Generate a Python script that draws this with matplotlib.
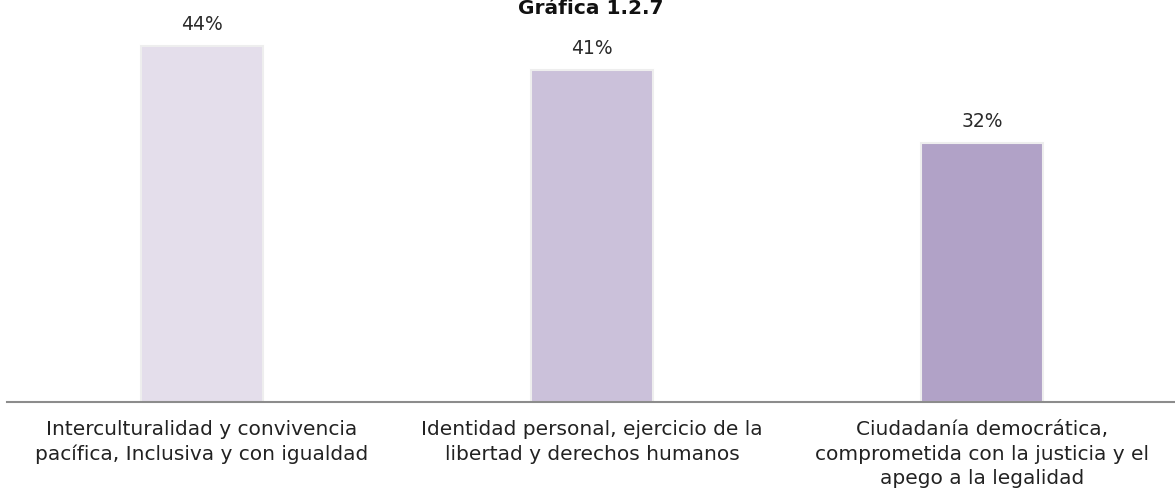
import matplotlib
matplotlib.use('Agg')
import matplotlib.pyplot as plt

# Grafica 1.2.7 data
categories = [
    'Interculturalidad y convivencia\npacífica, Inclusiva y con igualdad',
    'Identidad personal, ejercicio de la\nlibertad y derechos humanos',
    'Ciudadanía democrática,\ncomprometida con la justicia y el\napego a la legalidad',
]
values = [44, 41, 32]
bar_colors = ['#e4deeb', '#cbc1da', '#b1a2c7']
title = 'Gráfica 1.2.7'

plt.rcParams['font.family'] = ['DejaVu Sans']

fig = plt.figure(figsize=(11.75, 4.91), dpi=100)
ax = fig.add_axes([7 / 1175, 89 / 491, 1168 / 1175, 402 / 491])

x = list(range(len(values)))
bars = ax.bar(x, values, width=0.315, color=bar_colors,
              edgecolor='#eeeeee', linewidth=1.5)

for bar, val in zip(bars, values):
    ax.annotate(f'{val}%', (bar.get_x() + bar.get_width() / 2, val),
                xytext=(0, 9), textcoords='offset points',
                ha='center', va='bottom', fontsize=13.5, color='#2a2a2a')

ax.set_xlim(-0.5, 2.495)
ax.set_ylim(0, 49.7)
ax.set_xticks(x)
ax.set_xticklabels(categories, fontsize=14.5, color='#222222', linespacing=1.38)
ax.tick_params(axis='x', length=0, pad=13)
ax.set_yticks([])

for side in ['top', 'right', 'left']:
    ax.spines[side].set_visible(False)
ax.spines['bottom'].set_color('#8c8c8c')
ax.spines['bottom'].set_linewidth(1.5)

fig.text(0.503, 1 - 14 / 491, title, ha='center', va='baseline',
         fontsize=14.5, fontweight='bold', color='#111111')

fig.savefig('out.png', dpi=100)
